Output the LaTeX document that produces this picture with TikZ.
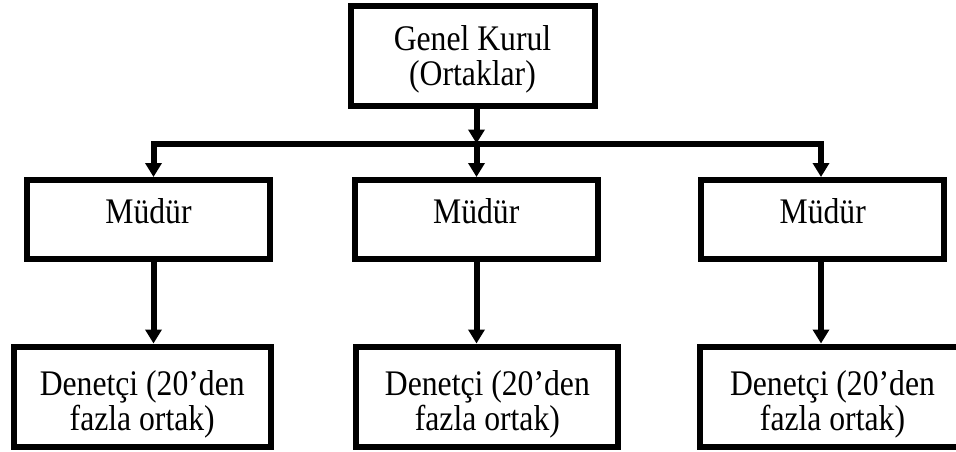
\documentclass[tikz,border=0pt]{standalone}
\usepackage{fontspec}
\setmainfont{Liberation Serif}
\newfontfamily\boxfont[FakeStretch=0.88]{Liberation Serif}
\usetikzlibrary{arrows.meta}
\begin{document}
\begin{tikzpicture}[x=1pt,y=-1pt,
  box/.style={draw, line width=6pt, inner sep=0pt, align=center},
  topbox/.style={box, minimum width=244pt, minimum height=99pt, font=\boxfont\fontsize{36}{35}\selectfont, text height=60pt, text depth=2pt},
  mbox/.style={box, minimum width=243pt, minimum height=79pt, font=\boxfont\fontsize{36}{35}\selectfont, text height=22pt, text depth=15pt},
  dbox/.style={box, minimum height=100.5pt, font=\boxfont\fontsize{36}{33}\selectfont, text height=68pt, text depth=1.5pt},
  link/.style={line width=6pt, line join=miter},
  tip/.tip={Triangle[length=14pt,width=16pt]},
  arr/.style={link, -tip},
]
\useasboundingbox (0,0) rectangle (956,452);
\node[topbox] (gk) at (472.5,56) {Genel Kurul\\(Ortaklar)};
\node[mbox] (m1) at (148.5,219.5) {Müdür};
\node[mbox] (m2) at (476.25,219.5) {Müdür};
\node[mbox] (m3) at (822.75,219.5) {Müdür};
\node[dbox, minimum width=257.5pt] (d1) at (142.25,396.75) {Denetçi (20’den\\fazla ortak)};
\node[dbox, minimum width=262pt] (d2) at (487.4,396.75) {Denetçi (20’den\\fazla ortak)};
\node[dbox, minimum width=266pt] (d3) at (832.5,396.75) {Denetçi (20’den\\fazla ortak)};
\coordinate (bl) at (153.5,143.5);
\coordinate (bm) at (476.5,143.5);
\coordinate (br) at (821,143.5);
\draw[arr] (bm |- gk.south) -- (bm);
\draw[link, tip-tip] (bl |- m1.north) -- (bl) -- (br) -- (br |- m3.north);
\draw[arr] (bm) -- (bm |- m2.north);
\draw[arr] (bl |- m1.south) -- (bl |- d1.north);
\draw[arr] (bm |- m2.south) -- (bm |- d2.north);
\draw[arr] (br |- m3.south) -- (br |- d3.north);
\end{tikzpicture}
\end{document}
